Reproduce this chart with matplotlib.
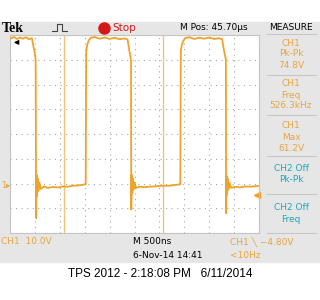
import matplotlib
matplotlib.use("Agg")
from matplotlib import pyplot as plt
from matplotlib.patches import Rectangle
from matplotlib.lines import Line2D

# trace: time in us, ch1 volts
t_us = [0.02, 0.08, 0.14, 0.20, 0.26, 0.32, 0.38, 0.44,
        0.47, 0.50, 0.515, 0.525, 0.535, 0.545, 0.555, 0.57, 0.59, 0.62,
        0.68, 0.76, 0.86, 0.96, 1.06, 1.16, 1.26, 1.36, 1.46, 1.52,
        1.53, 1.55, 1.58, 1.62, 1.70, 1.80, 1.90, 2.00, 2.10, 2.20, 2.30, 2.36,
        2.39, 2.42, 2.43, 2.435, 2.445, 2.455, 2.465, 2.48, 2.50, 2.53,
        2.60, 2.70, 2.80, 2.90, 3.00, 3.10, 3.20, 3.30, 3.40, 3.42,
        3.43, 3.45, 3.48, 3.52, 3.60, 3.70, 3.80, 3.90, 4.00, 4.10, 4.20, 4.26,
        4.29, 4.32, 4.335, 4.34, 4.35, 4.36, 4.37, 4.385, 4.41, 4.44,
        4.52, 4.62, 4.72, 4.82, 4.92, 4.98]
v_ch1 = [58.6, 59.2, 58.4, 59.0, 58.5, 59.1, 58.3, 58.7,
         55.5, 52.5, 50.0, -14.0, 3.5, -5.0, 2.0, -3.0, 0.5, -2.2,
         -1.2, -1.8, -1.4, -1.6, -1.2, -1.3, -0.9, -0.8, -0.5, -0.3,
         53.0, 56.0, 57.8, 58.8, 59.2, 58.5, 59.0, 58.4, 58.9, 58.3, 58.6, 58.2,
         54.5, 51.0, 49.5, -10.5, 3.5, -4.0, 2.0, -2.5, 0.5, -1.8,
         -1.3, -1.5, -1.3, -1.2, -1.0, -0.9, -0.9, -0.6, -0.4, -0.3,
         53.5, 56.0, 57.6, 58.8, 59.1, 58.4, 58.9, 58.5, 59.0, 58.4, 58.7, 58.3,
         54.5, 51.5, 50.0, -12.0, 3.0, -4.5, 2.0, -2.5, 0.3, -1.8,
         -1.3, -1.6, -1.2, -1.3, -1.1, -1.0]
cursor_us = [1.08, 3.07]
trig_level = -4.8

measure_labels = [["CH1", "Pk-Pk", "74.8V"],
                  ["CH1", "Freq", "526.3kHz"],
                  ["CH1", "Max", "61.2V"],
                  ["CH2 Off", "Pk-Pk"],
                  ["CH2 Off", "Freq"]]

ORANGE = "#eea32c"
TXT_OR = "#e9a43e"
CYAN = "#1fa7b6"
GRAY = "#e6e6e6"
NARROW = ["Liberation Sans Narrow", "DejaVu Sans"]

W, H = 320, 300
fig = plt.figure(figsize=(3.2, 3.0), dpi=100)
fig.patch.set_facecolor("white")

def fx(x):
    return x / W

def fy(y):
    return 1 - y / H

def txt(x, y, s, color="black", size=7, ha="left", **kw):
    fig.text(fx(x), fy(y), s, color=color, fontsize=size, ha=ha, va="center",
             family=kw.pop("family", NARROW), **kw)

# instrument frame
fig.patches.append(Rectangle((0, fy(262)), 1, 240 / H, transform=fig.transFigure,
                             color=GRAY, zorder=-5))

ax = fig.add_axes([fx(10), fy(233), 249 / W, 198 / H], zorder=2)
ax.set_facecolor("white")
ax.set_xlim(0, 5)
ax.set_ylim(-20, 60)
ax.set_xticks([i * 0.5 for i in range(11)])
ax.set_yticks(range(-20, 61, 10))
ax.tick_params(length=0, labelbottom=False, labelleft=False)
ax.grid(True, color="#a8a8a8", linestyle=(0, (1, 4)), linewidth=0.8)
for sp in ax.spines.values():
    sp.set_color("#c4c4c4")
    sp.set_linewidth(0.8)

for c in cursor_us:
    ax.axvline(c, color="#f2c278", lw=1.0, zorder=2)
ax.plot(t_us, v_ch1, color=ORANGE, lw=1.3, zorder=3, clip_on=True)

# trigger level marker on the right and off-screen arrow at top left
ax.plot([4.96], [trig_level], marker="<", color=ORANGE, ms=4, clip_on=False)
ax.annotate("", xy=(0.02, 57.0), xytext=(0.2, 57.0),
            arrowprops=dict(arrowstyle="-|>", color="black", lw=1, mutation_scale=6))

# top bar
txt(2, 28, "Tek", size=10, weight="bold", family=["Liberation Serif", "DejaVu Serif"])
fig.add_artist(Line2D([fx(52), fx(57), fx(57), fx(62), fx(62), fx(67)],
                      [fy(31), fy(31), fy(24), fy(24), fy(31), fy(31)],
                      color="#444444", lw=0.8))
fig.add_artist(Line2D([fx(104)], [fy(28)], marker="o", ms=8, color="#d41818"))
txt(112, 28, "Stop", color="#d41818", size=7.5)
txt(180, 28, "M Pos: 45.70\u00b5s", size=6.5)
txt(291, 28, "MEASURE", size=6.5, ha="center")

# measurement panel
rows = [[43, 54, 65], [84, 95, 106], [126, 137, 148], [168, 179], [207, 219]]
seps = [34, 75, 115, 156, 194, 233]
for y in seps:
    fig.add_artist(Line2D([fx(267), fx(316)], [fy(y), fy(y)], color="#c6c6c6", lw=0.8))
for labels, ys in zip(measure_labels, rows):
    col = CYAN if labels[0].startswith("CH2") else TXT_OR
    for s, y in zip(labels, ys):
        txt(291, y, s, color=col, size=6.5, ha="center")

# ground marker
txt(1, 185, "1\u25b8", color=TXT_OR, size=6, family=["DejaVu Sans"])

# bottom bar
txt(1, 242, "CH1  10.0V", color=TXT_OR, size=6.5)
txt(133, 241, "M 500ns", size=6.5)
txt(133, 256, "6-Nov-14 14:41", size=6.5)
txt(230, 242, "CH1 \u2572 \u22124.80V", color=TXT_OR, size=6.5)
txt(230, 256, "<10Hz", color=TXT_OR, size=6.5)
txt(160, 274, "TPS 2012 - 2:18:08 PM   6/11/2014", size=8.5, ha="center",
    family=["Liberation Sans", "DejaVu Sans"])

fig.savefig("out.png", dpi=100)
